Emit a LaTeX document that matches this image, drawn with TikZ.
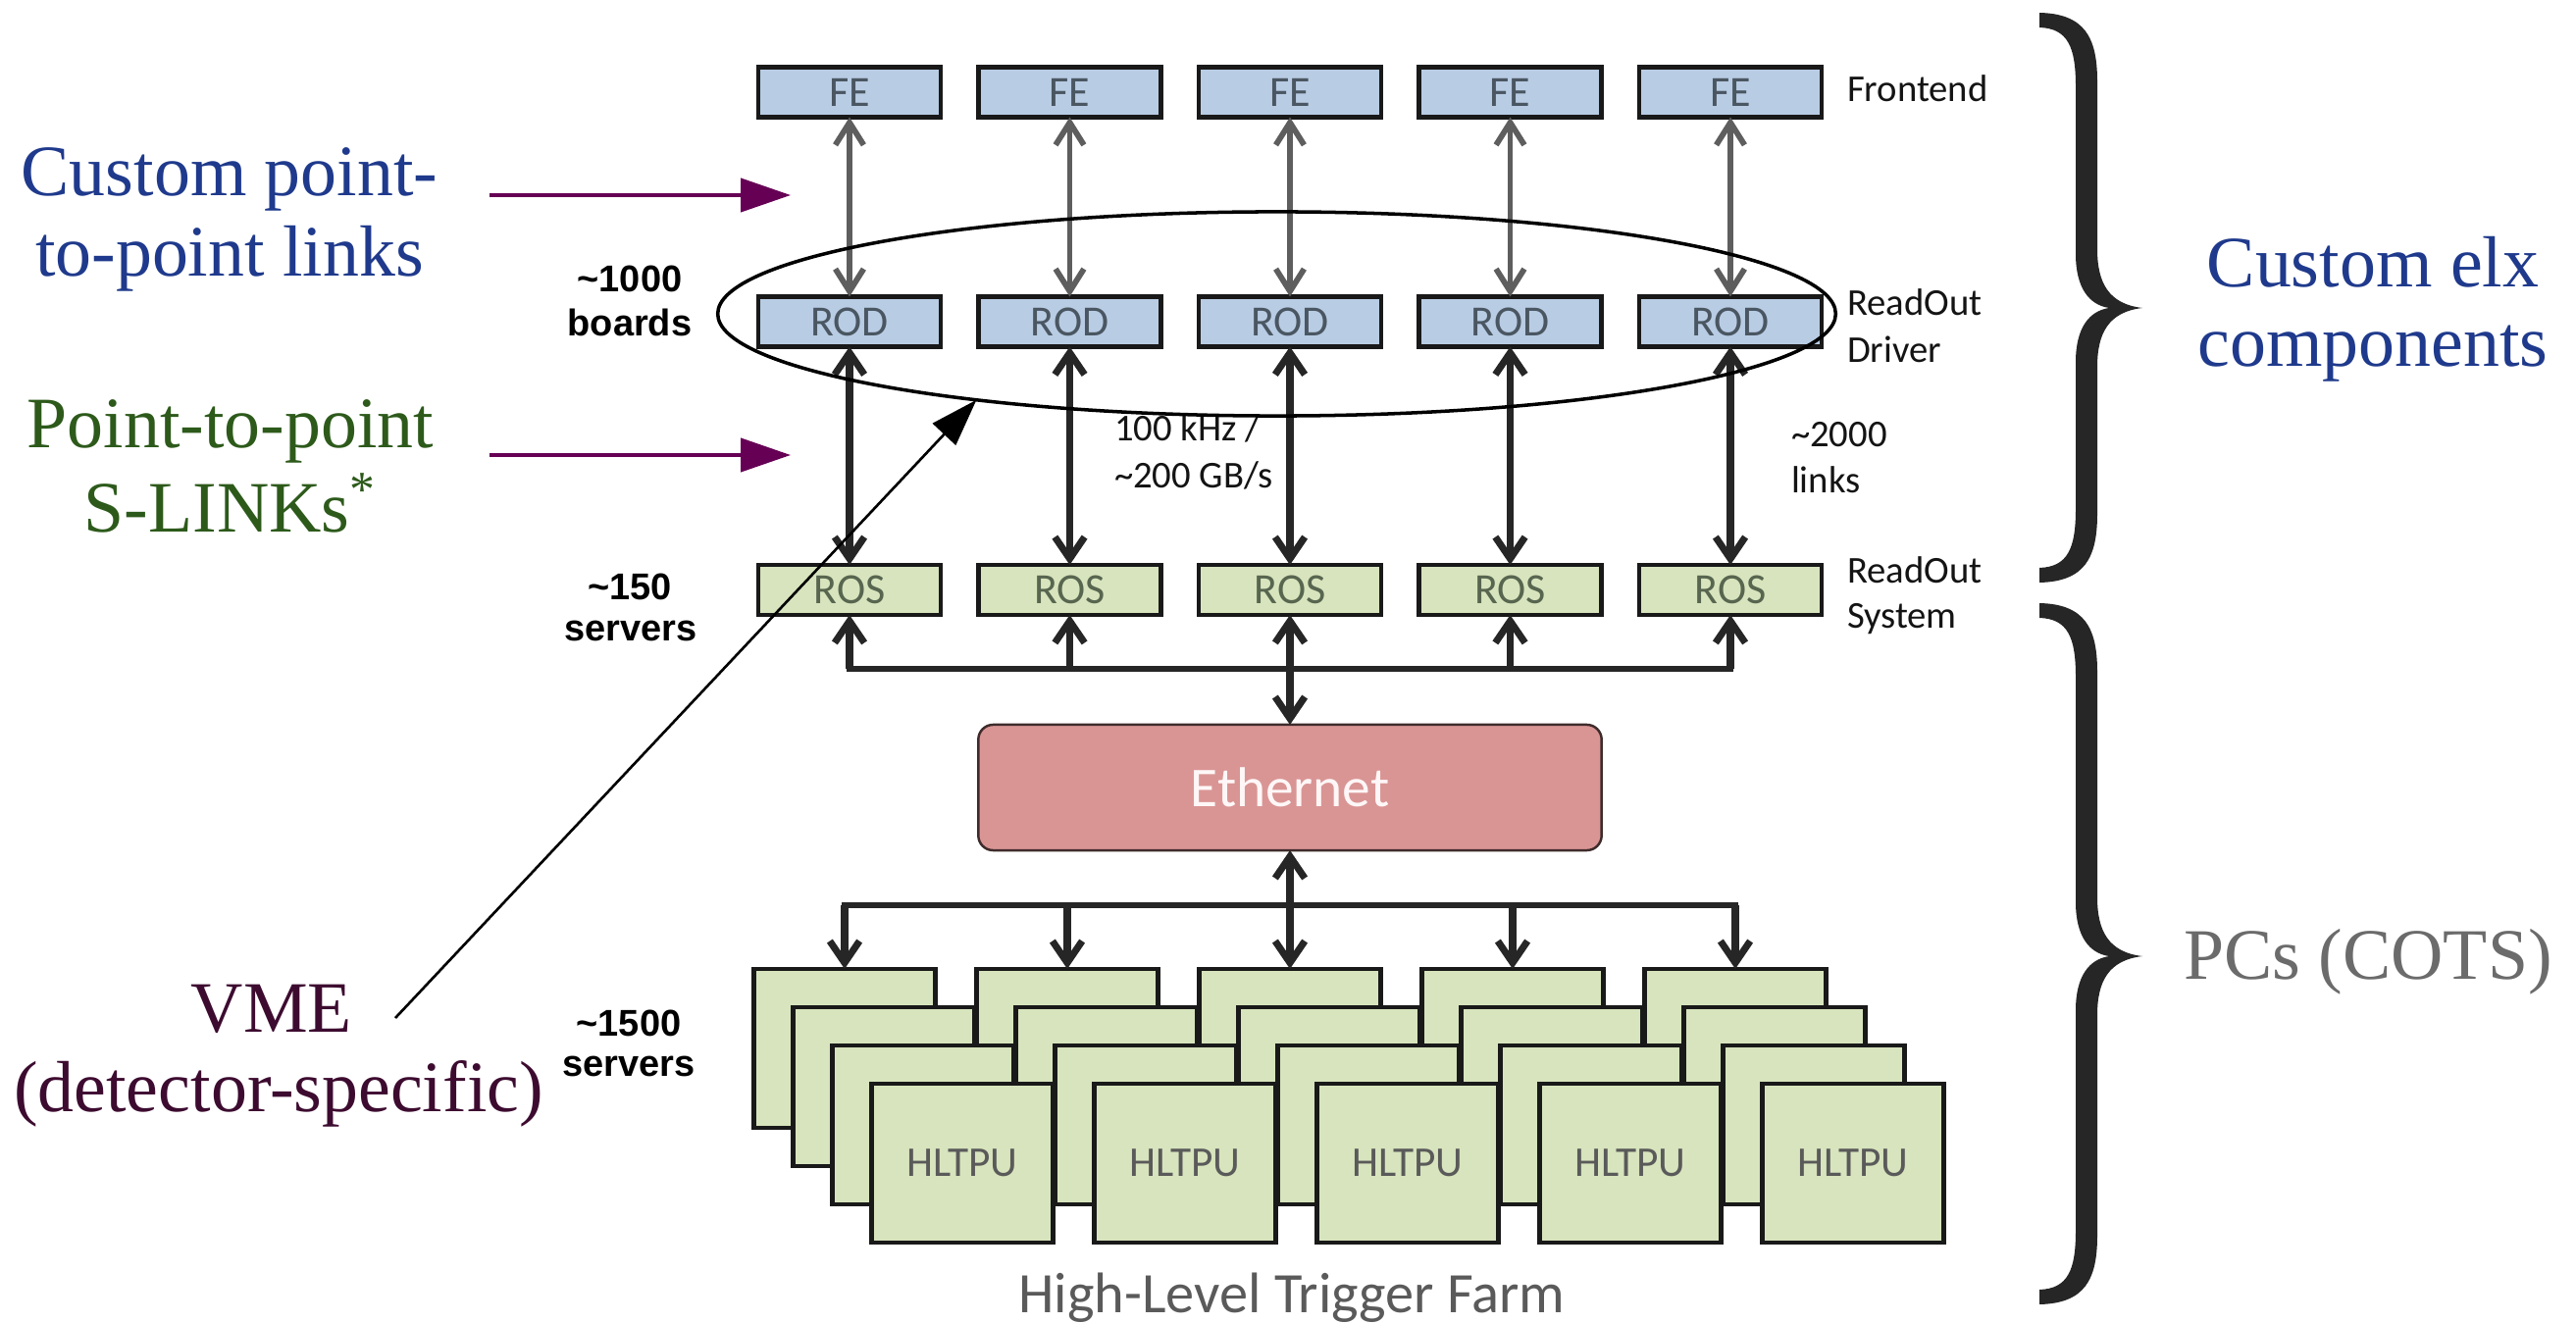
\documentclass[tikz,border=0pt]{standalone}
\usepackage{fontspec}
\newfontfamily\carlito{Carlito}
\newfontfamily\lsans{Liberation Sans}
\newfontfamily\lserif{Liberation Serif}
\usetikzlibrary{arrows.meta,shapes.geometric}

\definecolor{feblue}{HTML}{B8CCE4}
\definecolor{rosgreen}{HTML}{D7E4BD}
\definecolor{ethred}{HTML}{D99594}
\definecolor{ethline}{HTML}{3F2B2B}
\definecolor{linkgray}{HTML}{5E5E5E}
\definecolor{linkdark}{HTML}{262626}
\definecolor{bluetxt}{HTML}{4A5661}
\definecolor{greentxt}{HTML}{58654F}
\definecolor{annblue}{HTML}{1F3A8C}
\definecolor{anngreen}{HTML}{2D5A1B}
\definecolor{annvme}{HTML}{3D0B30}
\definecolor{anngray}{HTML}{6B6B6B}
\definecolor{pointer}{HTML}{660055}
\definecolor{farmtxt}{HTML}{5A5A5A}
\definecolor{bracecol}{HTML}{262626}

% curly brace opening to the left: #1 top, #2 tip, #3 bottom (image rows)
\newcommand\drawbrace[3]{%
  \fill[bracecol]
   (2079,#1) .. controls (2125,{#1+1}) and (2138,{#1+25}) .. (2138,{#1+70})
   -- (2138,{#2-60})
   .. controls (2138,{#2-25}) and (2150,{#2-4}) .. (2184,#2)
   .. controls (2150,{#2+4}) and (2138,{#2+25}) .. (2138,{#2+60})
   -- (2138,{#3-70})
   .. controls (2138,{#3-25}) and (2125,{#3-1}) .. (2079,#3)
   -- (2079,{#3-15})
   .. controls (2108,{#3-16}) and (2116,{#3-35}) .. (2116,{#3-75})
   -- (2116,{#2+55})
   .. controls (2116,{#2+20}) and (2130,{#2+3}) .. (2150,#2)
   .. controls (2130,{#2-3}) and (2116,{#2-20}) .. (2116,{#2-55})
   -- (2116,{#1+75})
   .. controls (2116,{#1+35}) and (2108,{#1+16}) .. (2079,{#1+15})
   -- cycle;}

\begin{document}
\begin{tikzpicture}[x=0.01cm,y=-0.01cm,
  every node/.style={inner sep=0pt, outer sep=0pt},
  unit/.style={draw=black!90, line width=1.2pt, minimum width=1.86cm,
    minimum height=0.51cm, font=\carlito\fontsize{12.5}{15}\selectfont},
  feunit/.style={unit, fill=feblue, text=bluetxt},
  rosunit/.style={unit, fill=rosgreen, text=greentxt},
  card/.style={draw=black!90, line width=1.2pt, fill=rosgreen,
    minimum width=1.85cm, minimum height=1.62cm, text=farmtxt,
    font=\carlito\fontsize{12.3}{15}\selectfont},
  eth/.style={draw=ethline, line width=0.7pt, fill=ethred, rounded corners=4.3pt,
    minimum width=6.35cm, minimum height=1.28cm, text=white!97!red,
    font=\carlito\fontsize{16.3}{19}\selectfont},
  barbg/.tip={Straight Barb[length=6.5pt,width=8.2pt]},
  barbd/.tip={Straight Barb[length=6.3pt,width=8.6pt]},
  glink/.style={draw=linkgray, line width=1.65pt, barbg-barbg},
  dlink/.style={draw=linkdark, line width=2pt, barbd-barbd},
  dlinkone/.style={draw=linkdark, line width=2pt, -barbd},
  bus/.style={draw=linkdark, line width=1.8pt, line cap=rect},
  side/.style={font=\carlito\fontsize{11}{13}\selectfont, text=black!92, anchor=base west},
  count/.style={font=\lsans\bfseries\fontsize{10.8}{13}\selectfont, anchor=base},
  ann/.style={font=\lserif\fontsize{21}{24}\selectfont, anchor=base},
  pointerarrow/.style={draw=pointer, line width=1.1pt,
    -{Triangle[length=14.5pt,width=9.7pt]}, pointer},
  leader/.style={draw=black, line width=0.75pt, -{Triangle[length=13.7pt,width=9.1pt]}}
]
\useasboundingbox (0,0) rectangle (2626,1349);

% readout chain: front ends, drivers, readout system
\foreach \i/\x in {1/866,2/1090.5,3/1315,4/1539.5,5/1764} {
  \node[feunit] (fe\i) at (\x,94) {FE};
  \node[feunit] (rod\i) at (\x,328) {ROD};
  \node[rosunit] (ros\i) at (\x,601.5) {ROS};
  \coordinate (rb\i) at (\x,682);
  \draw[glink] (fe\i) -- (rod\i);
  \draw[dlink] (rod\i) -- (ros\i);
}

% Ethernet switch
\node[eth] (eth) at (1315,803) {Ethernet};
\draw[bus] (rb1) -- (rb5);
\foreach \i in {1,2,4,5} \draw[dlinkone] (rb\i) -- (ros\i);
\draw[dlink] (ros3) -- (eth);

% trigger farm: four layers of processing units per stack
\foreach \k in {0,...,3} {
  \foreach \i/\x in {1/861,2/1088,3/1315,4/1542,5/1769} {
    \node[card] (hl\i\k) at ({\x+40*\k},{1069+39*\k}) {HLTPU};
  }
}
\foreach \i/\x in {1/861,2/1088,3/1315,4/1542,5/1769}
  \coordinate (hb\i) at (\x,923);
\draw[bus] (hb1) -- (hb5);
\foreach \i in {1,2,4,5} \draw[dlinkone] (hb\i) -- (hl\i0);
\draw[dlink] (eth) -- (hl30);
\node[anchor=base, font=\carlito\fontsize{16.6}{19}\selectfont, text=farmtxt]
  (farm) at (1317,1338) {High-Level Trigger Farm};

% level names
\node[side] (lfront) at (1883,104) {Frontend};
\node[side] (lrod1) at (1883,322) {ReadOut};
\node[side] (lrod2) at (1883,370) {Driver};
\node[side] (lros1) at (1883,595) {ReadOut};
\node[side] (lros2) at (1883,641) {System};
\node[side] (links1) at (1826,456) {\textasciitilde2000};
\node[side] (links2) at (1826,503) {links};
\node[side] (rate1) at (1136,450) {100 kHz /};
\node[side] (rate2) at (1136,498) {\textasciitilde200 GB/s};

% counts
\node[count] (n1000a) at (642,298) {\textasciitilde1000};
\node[count] (n1000b) at (642,343) {boards};
\node[count] (n150a) at (642,612) {\textasciitilde150};
\node[count] (n150b) at (643,653) {servers};
\node[count] (n1500a) at (641,1056) {\textasciitilde1500};
\node[count] (n1500b) at (641,1097) {servers};

% grouping of the drivers
\node[ellipse, draw=black, line width=1pt, minimum width=11.39cm,
  minimum height=2.08cm] (oval) at (1301.5,320) {};

% annotations on the left
\node[ann, text=annblue] (cpl1) at (234,200) {Custom point-};
\node[ann, text=annblue] (cpl2) at (234,282) {to-point links};
\node[ann, text=anngreen] (sl1) at (235,457) {Point-to-point};
\node[ann, text=anngreen] (sl2) at (235,543) {S-LINKs\textsuperscript{*}};
\node[ann, text=annvme] (vme1) at (277,1052) {VME};
\node[ann, text=annvme] (vme2) at (284,1133) {(detector-specific)};

\coordinate (p1a) at (499,199);
\coordinate (p1b) at (806,199);
\coordinate (p2a) at (499,464);
\coordinate (p2b) at (806,464);
\draw[pointerarrow] (p1a) -- (p1b);
\draw[pointerarrow] (p2a) -- (p2b);

\coordinate (vmetail) at (403,1038);
\draw[leader] (vmetail) -- (oval.196.6);

% braces and their captions on the right
\drawbrace{13}{314}{594}
\drawbrace{615}{975}{1330}
\node[ann, text=annblue] (celx1) at (2419,293) {Custom elx};
\node[ann, text=annblue] (celx2) at (2419,374) {components};
\node[ann, text=anngray] (cots) at (2414,998) {PCs (COTS)};
\end{tikzpicture}
\end{document}
